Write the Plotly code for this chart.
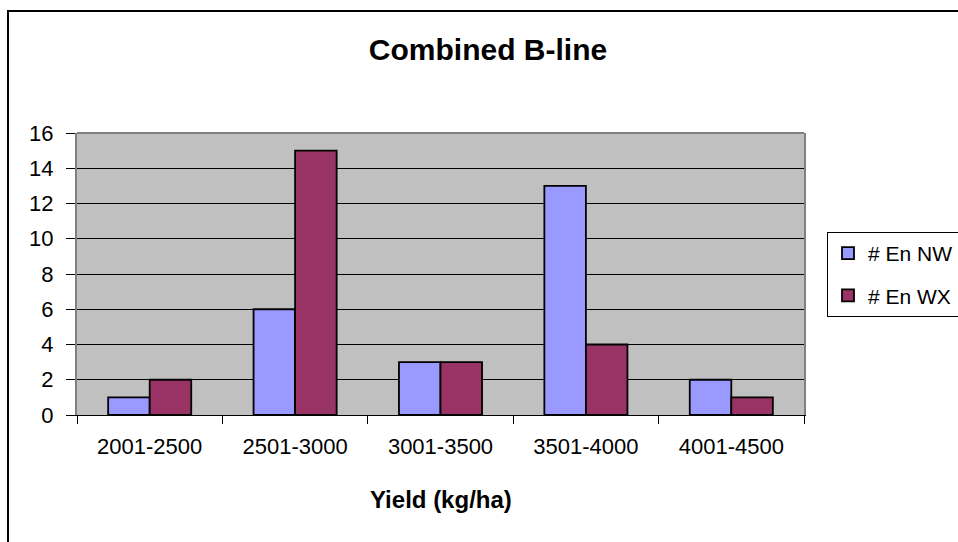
import plotly.graph_objects as go

# Yield classes and counts per line
categories = ["2001-2500", "2501-3000", "3001-3500", "3501-4000", "4001-4500"]
en_nw = [1, 6, 3, 13, 2]
en_wx = [2, 15, 3, 4, 1]
series_names = ["# En NW", "# En WX"]
y_ticks = [0, 2, 4, 6, 8, 10, 12, 14, 16]

W, H = 958, 542
ML, MR, MT, MB = 77, 154, 133, 127
PW, PH = W - ML - MR, H - MT - MB

def px_x(p):
    return (p - ML) / PW

def px_y(p):
    return (H - MB - p) / PH

FONT = "Liberation Sans, Arial, sans-serif"

fig = go.Figure()
fig.add_trace(go.Bar(
    x=categories, y=en_nw, name=series_names[0], legendgroup="a",
    marker=dict(color="#9999FF", line=dict(color="black", width=1.8)),
))
fig.add_trace(go.Bar(
    x=categories, y=en_wx, name=series_names[1], legendgroup="b",
    marker=dict(color="#993366", line=dict(color="black", width=1.8)),
))

fig.update_layout(
    width=W, height=H,
    margin=dict(l=ML, r=MR, t=MT, b=MB, pad=0, autoexpand=False),
    paper_bgcolor="white",
    plot_bgcolor="#C0C0C0",
    barmode="group",
    bargap=0.4286,
    bargroupgap=0,
    font=dict(family=FONT, color="black", size=21),
    title=dict(
        text="<b>Combined B-line</b>",
        font=dict(family=FONT, size=30, color="black"),
        xref="container", yref="container",
        x=488 / W, y=1 - 49 / H, xanchor="center", yanchor="middle",
    ),
    legend=dict(
        x=px_x(827), y=px_y(232), xanchor="left", yanchor="top",
        bgcolor="white", bordercolor="black", borderwidth=1,
        font=dict(family=FONT, size=21, color="black"),
        traceorder="grouped", tracegroupgap=12,
        itemwidth=30,
    ),
    showlegend=True,
)

fig.update_xaxes(
    type="category",
    showgrid=False,
    showline=True, linecolor="black", linewidth=1, mirror=False,
    ticks="outside", tickson="boundaries", ticklen=8, tickcolor="black",
    tickwidth=1,
    tickfont=dict(family=FONT, size=22, color="black"),
    ticklabelstandoff=12,
)
fig.update_yaxes(
    range=[0, 16],
    tickvals=y_ticks,
    showgrid=True, gridcolor="black", gridwidth=1,
    zeroline=True, zerolinecolor="black", zerolinewidth=1,
    showline=True, linecolor="#808080", linewidth=2, mirror=True,
    ticks="outside", ticklen=9, tickcolor="black", tickwidth=1,
    tickfont=dict(family=FONT, size=22, color="black"),
    ticklabelstandoff=8,
)

shapes = [
    # top edge of the plot frame
    dict(type="line", xref="paper", yref="paper", x0=0, x1=1, y0=1, y1=1,
         line=dict(color="#808080", width=2)),
    # outer chart border (runs off the right and bottom of the canvas)
    dict(type="rect", xref="paper", yref="paper",
         x0=px_x(8), x1=px_x(W + 40), y0=px_y(H + 40), y1=px_y(11),
         line=dict(color="black", width=2), fillcolor="rgba(0,0,0,0)",
         layer="below"),
]
fig.update_layout(shapes=shapes)

fig.add_annotation(
    text="<b>Yield (kg/ha)</b>",
    xref="paper", yref="paper", x=px_x(441), y=px_y(499),
    xanchor="center", yanchor="middle", showarrow=False,
    font=dict(family=FONT, size=24, color="black"),
)

fig.write_html("out.html")
